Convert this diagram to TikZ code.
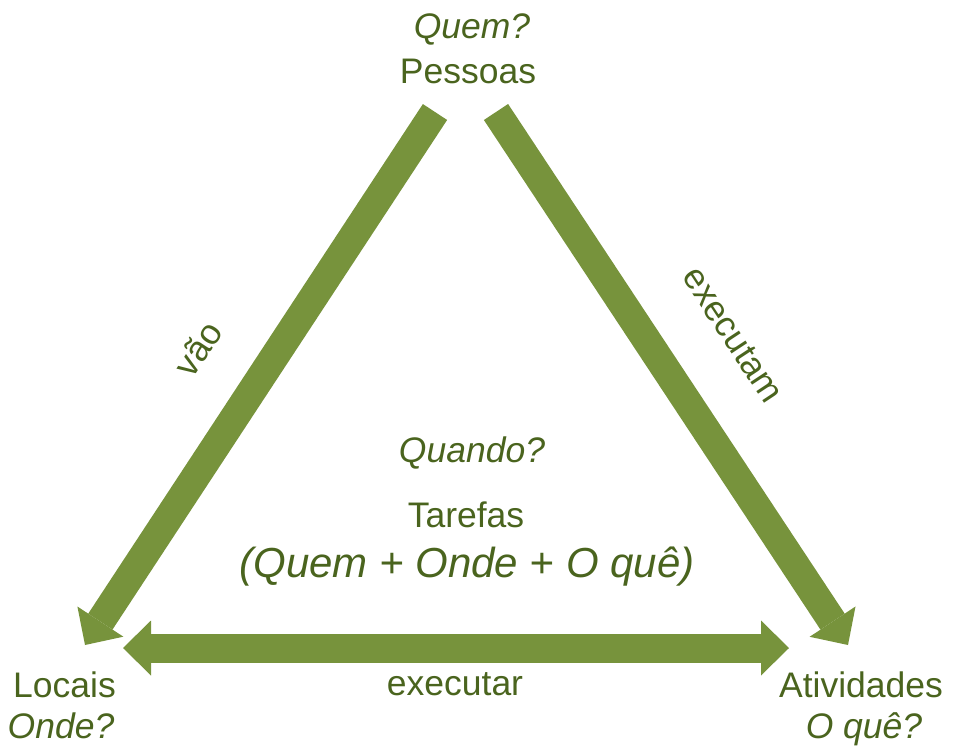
\documentclass[tikz,border=0pt]{standalone}
\usepackage{fontspec}
\setmainfont{Liberation Sans}
\usetikzlibrary{arrows.meta}
\definecolor{txtgreen}{HTML}{4A641E}
\definecolor{arrgreen}{HTML}{77933C}
\tikzset{
  lbl/.style={inner sep=0pt, anchor=base, text=txtgreen, font=\fontsize{35.5}{40}\selectfont},
  ilbl/.style={lbl, font=\fontsize{35.5}{40}\selectfont\itshape},
  bigi/.style={lbl, font=\fontsize{42}{48}\selectfont\itshape},
  bar/.style={draw=arrgreen, line width=29pt, line cap=butt},
  tip/.style={-{Triangle[length=28pt,width=55pt,line width=0pt]}},
  ttip/.style={{Triangle[length=28pt,width=55pt,line width=0pt]}-{Triangle[length=28pt,width=55pt,line width=0pt]}}
}
\begin{document}
\begin{tikzpicture}[x=1pt,y=-1pt]
\useasboundingbox (0,0) rectangle (954,753);
% arrows
\coordinate (lt) at (435,112);
\coordinate (lh) at (85,645);
\coordinate (rt) at (496,112);
\coordinate (rh) at (848,645);
\coordinate (hl) at (123,648);
\coordinate (hr) at (789,648);
\draw[bar,tip] (lt) -- (lh);
\draw[bar,tip] (rt) -- (rh);
\draw[bar,ttip] (hl) -- (hr);
% labels
\node[ilbl] (quem) at (472,38) {Quem?};
\node[lbl] (pessoas) at (468,83) {Pessoas};
\node[ilbl] (quando) at (472,462) {Quando?};
\node[lbl] (tarefas) at (466,527) {Tarefas};
\node[bigi] (formula) at (467,577) {(Quem + Onde + O quê)};
\node[lbl] (executar) at (455,695) {executar};
\node[lbl] (locais) at (64.5,697) {Locais};
\node[ilbl] (onde) at (61,738) {Onde?};
\node[lbl] (ativ) at (861,697) {Atividades};
\node[ilbl] (oque) at (864,738) {O quê?};
\node[lbl, anchor=center, rotate=56.7] (vao) at (198,349) {vão};
\node[lbl, anchor=center, rotate=-56.6] (executam) at (733,335) {executam};
\end{tikzpicture}
\end{document}
